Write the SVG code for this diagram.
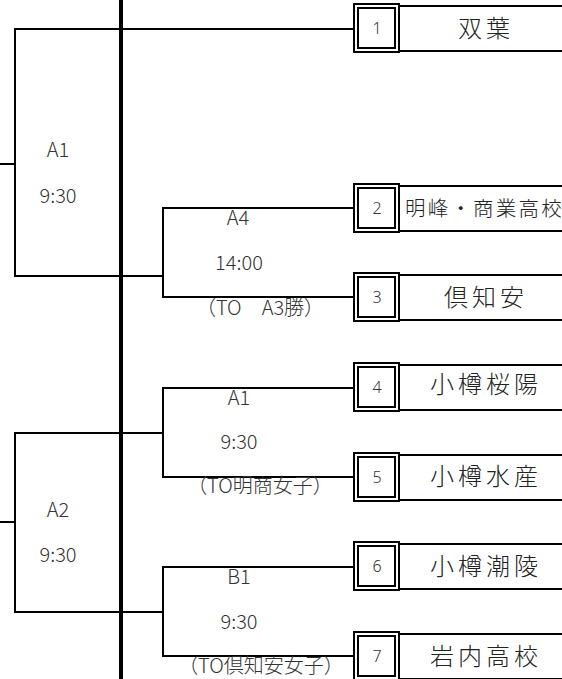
<svg xmlns="http://www.w3.org/2000/svg" width="562" height="679" viewBox="0 0 562 679">
<style>
.ln{stroke:#000;stroke-width:2;fill:none;stroke-linecap:square}
.thick{stroke:#000;stroke-width:4;fill:none}
.ob{fill:#fff;stroke:#000;stroke-width:2}
.ib{fill:none;stroke:#000;stroke-width:2}
.nb{fill:#fff;stroke:#000;stroke-width:2}
.lbl{font-family:"Noto Sans CJK JP","Noto Sans",sans-serif;font-size:20px;font-weight:300;fill:#333;text-anchor:middle}
.num{font-family:"Noto Sans","Noto Sans CJK JP",sans-serif;font-size:16px;font-weight:300;fill:#333;text-anchor:middle}
.name{font-family:"Noto Sans CJK JP",sans-serif;font-size:24px;font-weight:300;fill:#222;text-anchor:middle;letter-spacing:4px}
.name2{font-family:"Noto Sans CJK JP",sans-serif;font-size:20.5px;font-weight:300;fill:#222;letter-spacing:2.2px}
</style>
<rect width="562" height="679" fill="#fff"/>
<g id="connectors">
<line class="thick" x1="121" y1="0" x2="121" y2="679"/>
<polyline class="ln" points="354,29 15,29 15,276 163,276"/>
<line class="ln" x1="0" y1="164" x2="15" y2="164"/>
<polyline class="ln" points="354,208 163,208 163,297 354,297"/>
<polyline class="ln" points="163,433 15,433 15,612 163,612"/>
<line class="ln" x1="0" y1="522" x2="15" y2="522"/>
<polyline class="ln" points="354,388 163,388 163,477 354,477"/>
<polyline class="ln" points="354,567 163,567 163,656 354,656"/>
</g>
<g id="match-A1-top">
<text class="lbl" x="58" y="157">A1</text>
<text class="lbl" x="58" y="203">9:30</text>
</g>
<g id="match-A2">
<text class="lbl" x="58" y="517">A2</text>
<text class="lbl" x="58" y="562">9:30</text>
</g>
<g id="match-A4">
<text class="lbl" x="238" y="225">A4</text>
<text class="lbl" x="239" y="270">14:00</text>
<text class="lbl" x="260" y="315">（TO　A3勝）</text>
</g>
<g id="match-A1-mid">
<text class="lbl" x="239" y="405">A1</text>
<text class="lbl" x="239" y="449">9:30</text>
<text class="lbl" x="260" y="493">（TO明商女子）</text>
</g>
<g id="match-B1">
<text class="lbl" x="239" y="584">B1</text>
<text class="lbl" x="239" y="629">9:30</text>
<text class="lbl" x="261" y="673">（TO倶知安女子）</text>
</g>
<g id="team-1">
<rect class="nb" x="399" y="6" width="170" height="45"/>
<rect class="ob" x="354" y="4" width="45" height="48"/>
<rect class="ib" x="358" y="8" width="37" height="40"/>
<text class="num" x="377" y="34">1</text>
<text class="name" x="486" y="37">双葉</text>
</g>
<g id="team-2">
<rect class="nb" x="399" y="186" width="170" height="45"/>
<rect class="ob" x="354" y="184" width="45" height="48"/>
<rect class="ib" x="358" y="188" width="37" height="40"/>
<text class="num" x="377" y="214">2</text>
<text class="name2" x="405" y="216">明峰・商業高校</text>
</g>
<g id="team-3">
<rect class="nb" x="399" y="275" width="170" height="45"/>
<rect class="ob" x="354" y="273" width="45" height="48"/>
<rect class="ib" x="358" y="277" width="37" height="40"/>
<text class="num" x="377" y="303">3</text>
<text class="name" x="486" y="306">倶知安</text>
</g>
<g id="team-4">
<rect class="nb" x="399" y="365" width="170" height="45"/>
<rect class="ob" x="354" y="363" width="45" height="48"/>
<rect class="ib" x="358" y="367" width="37" height="40"/>
<text class="num" x="377" y="393">4</text>
<text class="name" x="486" y="393">小樽桜陽</text>
</g>
<g id="team-5">
<rect class="nb" x="399" y="455" width="170" height="45"/>
<rect class="ob" x="354" y="453" width="45" height="48"/>
<rect class="ib" x="358" y="457" width="37" height="40"/>
<text class="num" x="377" y="483">5</text>
<text class="name" x="486" y="485">小樽水産</text>
</g>
<g id="team-6">
<rect class="nb" x="399" y="544" width="170" height="45"/>
<rect class="ob" x="354" y="542" width="45" height="48"/>
<rect class="ib" x="358" y="546" width="37" height="40"/>
<text class="num" x="377" y="572">6</text>
<text class="name" x="486" y="575">小樽潮陵</text>
</g>
<g id="team-7">
<rect class="nb" x="399" y="634" width="170" height="45"/>
<rect class="ob" x="354" y="632" width="45" height="48"/>
<rect class="ib" x="358" y="636" width="37" height="40"/>
<text class="num" x="377" y="662">7</text>
<text class="name" x="486" y="665">岩内高校</text>
</g>
</svg>
